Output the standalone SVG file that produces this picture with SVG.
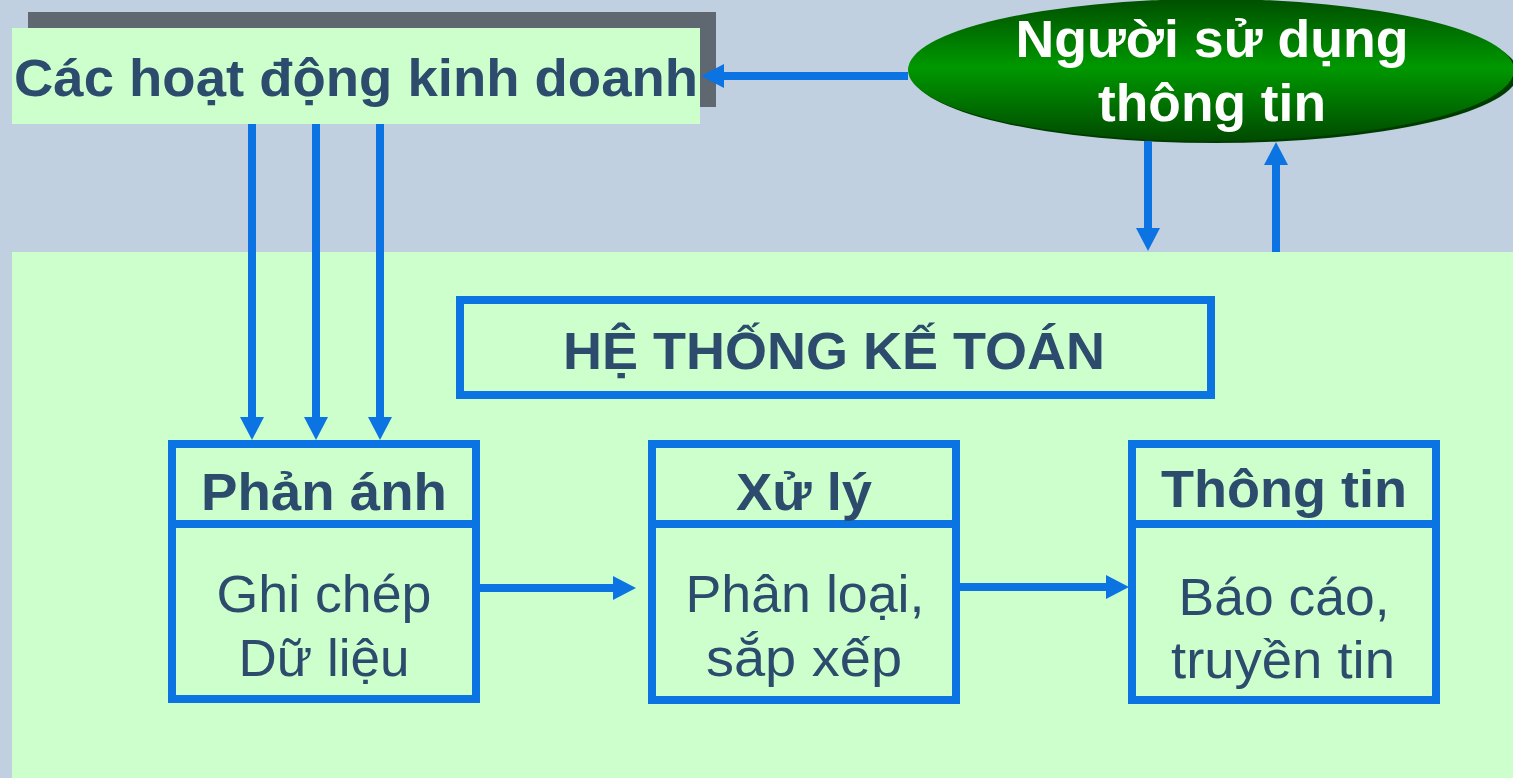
<svg xmlns="http://www.w3.org/2000/svg" width="1513" height="778" viewBox="0 0 1513 778">
  <style>
    .t { font-family: "Liberation Sans", Arial, sans-serif; fill: #2D4B6D; text-anchor: middle; font-size: 51px; }
    .b { font-weight: bold; }
    .w { fill: #FFFFFF; font-weight: bold; }
    .box { fill: none; stroke: #0C73E3; stroke-width: 8; }
    .con { stroke: #0C73E3; stroke-width: 8; fill: none; marker-end: url(#ah); }
  </style>
  <defs>
    <marker id="ah" markerUnits="userSpaceOnUse" markerWidth="24" markerHeight="24" refX="1" refY="12" orient="auto" overflow="visible">
      <path d="M0,0 L23,12 L0,24 Z" fill="#0C73E3"/>
    </marker>
    <linearGradient id="eg" x1="0" y1="0" x2="0" y2="1">
      <stop offset="0" stop-color="#004F00"/>
      <stop offset="0.48" stop-color="#009800"/>
      <stop offset="1" stop-color="#004A00"/>
    </linearGradient>
  </defs>

  <rect x="0" y="0" width="1513" height="778" fill="#C0D0E0"/>
  <rect id="system-area" x="12" y="252" width="1501" height="526" fill="#CCFFCC"/>

  <g id="business">
    <rect x="28" y="12" width="688" height="95" fill="#5F6771"/>
    <rect x="12" y="28" width="688" height="96" fill="#CCFFCC"/>
    <text class="t b" x="356" y="96" textLength="684" lengthAdjust="spacingAndGlyphs">Các hoạt động kinh doanh</text>
  </g>

  <g id="users">
    <ellipse cx="1215" cy="73" rx="303" ry="70" fill="#003C00"/>
    <ellipse cx="1211" cy="70" rx="303" ry="71" fill="url(#eg)"/>
    <text class="t w" x="1212" y="57" textLength="393" lengthAdjust="spacingAndGlyphs">Người sử dụng</text>
    <text class="t w" x="1212" y="121" textLength="228" lengthAdjust="spacingAndGlyphs">thông tin</text>
  </g>

  <g id="accounting-system">
    <rect class="box" x="460" y="300" width="751" height="95" fill="none"/>
    <text class="t b" x="834" y="369" textLength="542" lengthAdjust="spacingAndGlyphs">HỆ THỐNG KẾ TOÁN</text>
  </g>

  <g id="reflect">
    <rect class="box" x="172" y="444" width="304" height="255"/>
    <line x1="172" y1="524" x2="476" y2="524" stroke="#0C73E3" stroke-width="8"/>
    <text class="t b" x="324" y="510" textLength="246" lengthAdjust="spacingAndGlyphs">Phản ánh</text>
    <text class="t" x="324" y="612" textLength="215" lengthAdjust="spacingAndGlyphs">Ghi chép</text>
    <text class="t" x="324" y="676" textLength="171" lengthAdjust="spacingAndGlyphs">Dữ liệu</text>
  </g>

  <g id="process">
    <rect class="box" x="652" y="444" width="304" height="256"/>
    <line x1="652" y1="524" x2="956" y2="524" stroke="#0C73E3" stroke-width="8"/>
    <text class="t b" x="804" y="510" textLength="136" lengthAdjust="spacingAndGlyphs">Xử lý</text>
    <text class="t" x="805" y="612" textLength="239" lengthAdjust="spacingAndGlyphs">Phân loại,</text>
    <text class="t" x="804" y="676" textLength="196" lengthAdjust="spacingAndGlyphs">sắp xếp</text>
  </g>

  <g id="information">
    <rect class="box" x="1132" y="444" width="304" height="256"/>
    <line x1="1132" y1="524" x2="1436" y2="524" stroke="#0C73E3" stroke-width="8"/>
    <text class="t b" x="1284" y="507" textLength="246" lengthAdjust="spacingAndGlyphs">Thông tin</text>
    <text class="t" x="1284" y="615" textLength="211" lengthAdjust="spacingAndGlyphs">Báo cáo,</text>
    <text class="t" x="1283" y="678" textLength="224" lengthAdjust="spacingAndGlyphs">truyền tin</text>
  </g>

  <g id="connectors">
    <line class="con" x1="908" y1="76" x2="723" y2="76"/>
    <line class="con" x1="252" y1="124" x2="252" y2="418"/>
    <line class="con" x1="316" y1="124" x2="316" y2="418"/>
    <line class="con" x1="380" y1="124" x2="380" y2="418"/>
    <line class="con" x1="1148" y1="141" x2="1148" y2="229"/>
    <line class="con" x1="1276" y1="252" x2="1276" y2="164"/>
    <line class="con" x1="480" y1="588" x2="614" y2="588"/>
    <line class="con" x1="960" y1="587" x2="1107" y2="587"/>
  </g>
</svg>
